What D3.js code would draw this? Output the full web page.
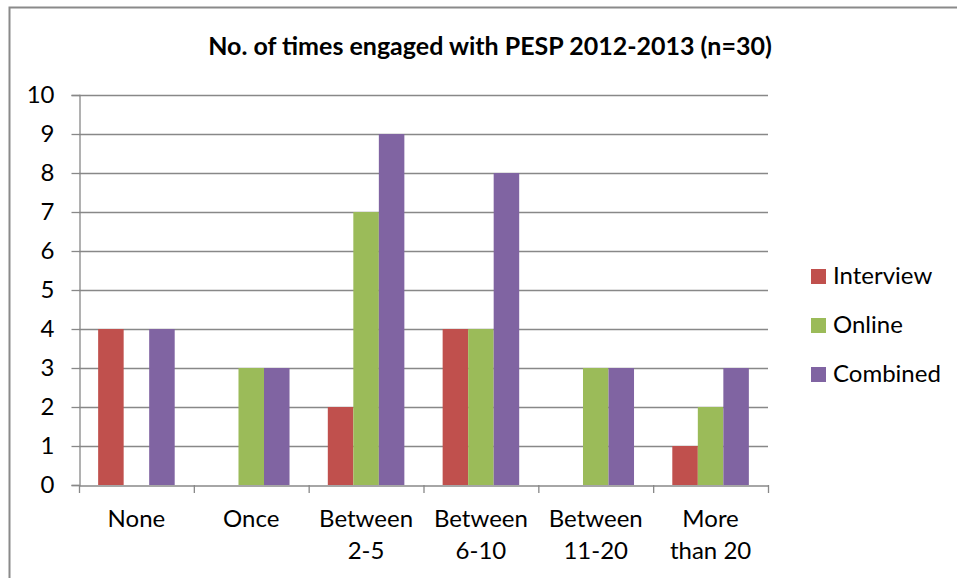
<!DOCTYPE html>
<html>
<head>
<meta charset="utf-8">
<script src="https://cdn.jsdelivr.net/npm/d3@7"></script>
<style>
  html, body { margin: 0; padding: 0; background: #fff; }
  svg { display: block; font-family: Lato, "Open Sans", sans-serif; }
</style>
</head>
<body>
<svg id="chart" width="957" height="578"></svg>
<script>
// Engagement frequency categories (line breaks split the axis labels)
const categories = ["None", "Once", "Between\n2-5", "Between\n6-10", "Between\n11-20", "More\nthan 20"];
const seriesNames = ["Interview", "Online", "Combined"];
const interview = [4, 0, 2, 4, 0, 1];
const online    = [0, 3, 7, 4, 3, 2];
const combined  = [4, 3, 9, 8, 3, 3];
const yTicks = [0, 1, 2, 3, 4, 5, 6, 7, 8, 9, 10];
const colors = ["#C0504D", "#9BBB59", "#8064A2"];
const title = "No. of times engaged with PESP 2012-2013 (n=30)";

const values = [interview, online, combined];
const svg = d3.select("#chart");
const fontSize = 24;

// Outer chart frame
svg.append("rect")
  .attr("x", 9.5).attr("y", 7.5)
  .attr("width", 1000).attr("height", 700)
  .attr("fill", "none").attr("stroke", "#8a8a8a").attr("stroke-width", 2);

const plot = { left: 79, right: 768, top: 95, bottom: 485 };

const x = d3.scaleBand()
  .domain(d3.range(categories.length))
  .range([plot.left, plot.right])
  .paddingInner(0).paddingOuter(0);

const inner = d3.scaleBand()
  .domain(d3.range(seriesNames.length))
  .range([0, x.bandwidth()])
  .paddingOuter(0.75).paddingInner(0);

const y = d3.scaleLinear().domain([0, 10]).range([plot.bottom, plot.top]);

// Horizontal gridlines
svg.append("g")
  .selectAll("line")
  .data(yTicks.filter(d => d > 0))
  .join("line")
  .attr("x1", plot.left).attr("x2", plot.right)
  .attr("y1", d => y(d) + 0.5).attr("y2", d => y(d) + 0.5)
  .attr("stroke", "#888").attr("stroke-width", 1.3);

// Bars
const groups = svg.append("g")
  .selectAll("g")
  .data(categories.map((c, i) => i))
  .join("g")
  .attr("transform", i => `translate(${x(i)},0)`);

groups.selectAll("rect")
  .data(i => values.map((s, k) => ({ k, v: s[i] })))
  .join("rect")
  .attr("x", d => inner(d.k))
  .attr("width", inner.bandwidth())
  .attr("y", d => y(d.v))
  .attr("height", d => y(0) - y(d.v))
  .attr("fill", d => colors[d.k]);

// Y axis
const yAxis = svg.append("g")
  .attr("transform", `translate(${plot.left + 0.5},0)`)
  .call(d3.axisLeft(y).tickValues(yTicks).tickSize(8).tickPadding(17).tickFormat(d3.format("d")));
yAxis.select(".domain").attr("stroke", "#888").attr("stroke-width", 1.3);
yAxis.selectAll(".tick line").attr("stroke", "#888").attr("stroke-width", 1.3);
yAxis.selectAll("text").attr("font-size", fontSize).attr("fill", "#000")
  .attr("font-family", "Lato, sans-serif");

// X axis
const xAxis = svg.append("g")
  .attr("transform", `translate(0,${plot.bottom + 0.5})`)
  .call(d3.axisBottom(x).tickSize(0).tickFormat(""));
xAxis.select(".domain").attr("stroke", "#888").attr("stroke-width", 1.3);
// category boundary ticks
svg.append("g")
  .selectAll("line")
  .data(d3.range(categories.length + 1))
  .join("line")
  .attr("x1", i => (i < categories.length ? x(i) : plot.right) + 0.5)
  .attr("x2", i => (i < categories.length ? x(i) : plot.right) + 0.5)
  .attr("y1", plot.bottom).attr("y2", plot.bottom + 8)
  .attr("stroke", "#888").attr("stroke-width", 1.3);

// Category labels
const labels = svg.append("g")
  .selectAll("text")
  .data(categories.map((c, i) => ({ c, i })))
  .join("text")
  .attr("text-anchor", "middle")
  .attr("font-size", fontSize)
  .attr("fill", "#000");
labels.each(function(d) {
  const t = d3.select(this);
  d.c.split("\n").forEach((line, j) => {
    t.append("tspan")
      .attr("x", x(d.i) + x.bandwidth() / 2)
      .attr("y", 527 + j * 32)
      .text(line);
  });
});

// Title
svg.append("text")
  .attr("x", 490).attr("y", 55)
  .attr("text-anchor", "middle")
  .attr("font-size", 25).attr("font-weight", "bold")
  .attr("fill", "#000")
  .text(title);

// Legend
const legend = svg.append("g")
  .selectAll("g")
  .data(seriesNames.map((n, k) => ({ n, k })))
  .join("g")
  .attr("transform", d => `translate(811,${269 + d.k * 49})`);
legend.append("rect")
  .attr("width", 15).attr("height", 15)
  .attr("fill", d => colors[d.k]);
legend.append("text")
  .attr("x", 22).attr("y", 15)
  .attr("font-size", fontSize).attr("fill", "#000")
  .text(d => d.n);
</script>
</body>
</html>
